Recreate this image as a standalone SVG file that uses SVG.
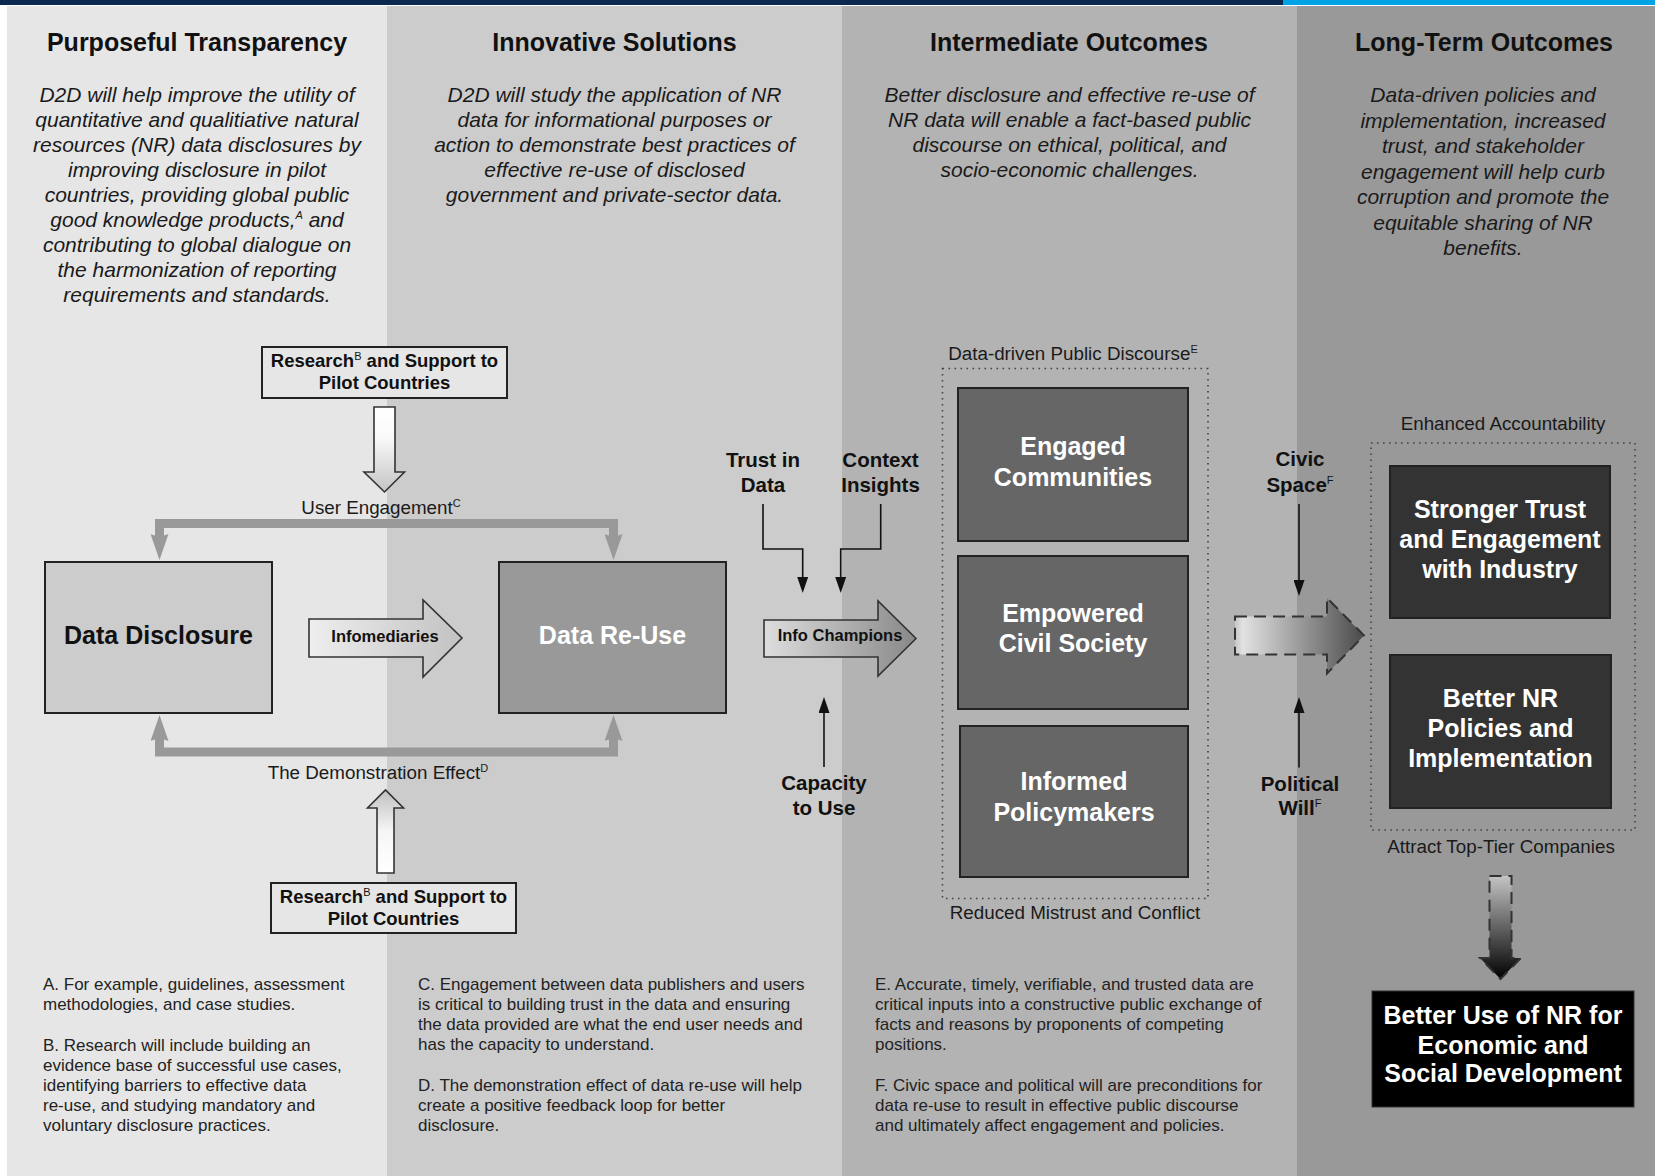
<svg xmlns="http://www.w3.org/2000/svg" width="1655" height="1176" viewBox="0 0 1655 1176">
<defs>
<style>
text{font-family:"Liberation Sans",Arial,sans-serif}
.h{font-weight:bold;font-size:25px;fill:#111;text-anchor:middle}
.d{font-style:italic;font-size:21px;fill:#1a1a1a;text-anchor:middle}
.lb{font-weight:bold;font-size:20.5px;fill:#111;text-anchor:middle}
.lr{font-size:18.8px;fill:#1a1a1a;text-anchor:middle}
.fn{font-size:17px;fill:#222}
.bw{font-weight:bold;font-size:25px;fill:#fff;text-anchor:middle}
.bk{font-weight:bold;font-size:25px;fill:#111;text-anchor:middle}
.rs{font-weight:bold;font-size:18.5px;fill:#111;text-anchor:middle}
.ar{font-weight:bold;font-size:16.5px;fill:#111;text-anchor:middle}
.sup{font-size:11px;font-weight:normal}
.box{stroke:#222;stroke-width:2}
.dot{fill:none;stroke:#444;stroke-width:1.6;stroke-dasharray:1.6 4.4}
.thin{fill:none;stroke:#111;stroke-width:1.6}
.loop{fill:none;stroke:#999;stroke-width:9}
.hollow{stroke:#333;stroke-width:1.6}
.dash{stroke:#333;stroke-width:2;stroke-dasharray:12 7}
</style>
<linearGradient id="gWD" x1="0" y1="0" x2="0" y2="1"><stop offset="0" stop-color="#ffffff"/><stop offset="0.35" stop-color="#fafafa"/><stop offset="1" stop-color="#c4c4c4"/></linearGradient>
<linearGradient id="gWU" x1="0" y1="1" x2="0" y2="0"><stop offset="0" stop-color="#ffffff"/><stop offset="0.5" stop-color="#f6f6f6"/><stop offset="1" stop-color="#c0c0c0"/></linearGradient>
<linearGradient id="gInf" x1="0" y1="0" x2="1" y2="0"><stop offset="0" stop-color="#eeeeee"/><stop offset="1" stop-color="#c2c2c2"/></linearGradient>
<linearGradient id="gCh" x1="0" y1="0" x2="1" y2="0"><stop offset="0" stop-color="#dddddd"/><stop offset="1" stop-color="#888888"/></linearGradient>
<linearGradient id="gCv" x1="0" y1="0" x2="1" y2="0"><stop offset="0" stop-color="#c6c6c6"/><stop offset="0.06" stop-color="#e2e2e2"/><stop offset="1" stop-color="#4a4a4a"/></linearGradient>
<linearGradient id="gDn" x1="0" y1="0" x2="0" y2="1"><stop offset="0" stop-color="#c4c4c4"/><stop offset="1" stop-color="#000000"/></linearGradient>
<marker id="ah" viewBox="0 0 16 11" refX="6" refY="5.5" markerWidth="16" markerHeight="11" markerUnits="userSpaceOnUse" orient="auto"><path d="M0,0 L16,5.5 L0,11 z" fill="#111"/></marker>
<marker id="gh" viewBox="0 0 26 18" refX="11" refY="9" markerWidth="26" markerHeight="18" markerUnits="userSpaceOnUse" orient="auto-start-reverse"><path d="M0,0 L26,9 L0,18 L3,9 z" fill="#999"/></marker>
</defs>

<g id="background">
<rect x="0" y="0" width="1655" height="1176" fill="#ffffff"/>
<rect x="0" y="0" width="1283" height="5" fill="#0b2850"/>
<rect x="1283" y="0" width="372" height="5" fill="#00a3e6"/>
<rect x="7" y="6" width="380" height="1170" fill="#e6e6e6"/>
<rect x="387" y="6" width="455" height="1170" fill="#cccccc"/>
<rect x="842" y="6" width="455" height="1170" fill="#b3b3b3"/>
<rect x="1297" y="6" width="358" height="1170" fill="#999999"/>
</g>

<g id="headers">
<text class="h" x="197" y="51">Purposeful Transparency</text>
<text class="h" x="614.5" y="51">Innovative Solutions</text>
<text class="h" x="1069" y="51">Intermediate Outcomes</text>
<text class="h" x="1484" y="51">Long-Term Outcomes</text>
</g>

<g id="descriptions">
<text class="d" x="197" y="101.5">D2D will help improve the utility of</text>
<text class="d" x="197" y="126.6">quantitative and qualitiative natural</text>
<text class="d" x="197" y="151.7">resources (NR) data disclosures by</text>
<text class="d" x="197" y="176.8">improving disclosure in pilot</text>
<text class="d" x="197" y="201.9">countries, providing global public</text>
<text class="d" x="197" y="227">good knowledge products,<tspan class="sup" dy="-8">A</tspan><tspan dy="8"> and</tspan></text>
<text class="d" x="197" y="252.1">contributing to global dialogue on</text>
<text class="d" x="197" y="277.2">the harmonization of reporting</text>
<text class="d" x="197" y="302.3">requirements and standards.</text>

<text class="d" x="614.5" y="101.5">D2D will study the application of NR</text>
<text class="d" x="614.5" y="126.6">data for informational purposes or</text>
<text class="d" x="614.5" y="151.7">action to demonstrate best practices of</text>
<text class="d" x="614.5" y="176.8">effective re-use of disclosed</text>
<text class="d" x="614.5" y="201.9">government and private-sector data.</text>

<text class="d" x="1069.5" y="101.5">Better disclosure and effective re-use of</text>
<text class="d" x="1069.5" y="126.6">NR data will enable a fact-based public</text>
<text class="d" x="1069.5" y="151.7">discourse on ethical, political, and</text>
<text class="d" x="1069.5" y="176.8">socio-economic challenges.</text>

<text class="d" x="1483" y="102">Data-driven policies and</text>
<text class="d" x="1483" y="127.5">implementation, increased</text>
<text class="d" x="1483" y="153">trust, and stakeholder</text>
<text class="d" x="1483" y="178.6">engagement will help curb</text>
<text class="d" x="1483" y="204.2">corruption and promote the</text>
<text class="d" x="1483" y="229.8">equitable sharing of NR</text>
<text class="d" x="1483" y="255.3">benefits.</text>
</g>

<g id="connectors">
<path class="loop" d="M159.5,545 V523.5 H613.5 V545" marker-start="url(#gh)" marker-end="url(#gh)"/>
<path class="loop" d="M159.5,730 V752 H613.5 V730" marker-start="url(#gh)" marker-end="url(#gh)"/>
<polygon class="hollow" fill="url(#gWD)" points="374,407 395,407 395,472 404.5,472 384.5,492 364,472 374,472"/>
<polygon class="hollow" fill="url(#gWU)" points="377,873 394,873 394,808 403.5,808 385.5,790 367.5,808 377,808"/>
<path class="thin" d="M763,504 V549 H802.7 V583" marker-end="url(#ah)"/>
<path class="thin" d="M880.7,504 V549 H840.7 V583" marker-end="url(#ah)"/>
<path class="thin" d="M824,767 V707" marker-end="url(#ah)"/>
<path class="thin" d="M1299,504 V586" marker-end="url(#ah)"/>
<path class="thin" d="M1299,767.5 V707" marker-end="url(#ah)"/>
<polygon class="dash" fill="url(#gCv)" points="1235,616.5 1327,616.5 1327,598 1364,635.5 1327,673.5 1327,654.5 1235,654.5"/>
<polygon class="dash" fill="url(#gDn)" points="1489.5,876 1511.5,876 1511.5,958 1521,958 1500.5,979 1480,958 1489.5,958"/>
</g>

<g id="research-top">
<rect class="box" x="262" y="347" width="245" height="51" fill="#e6e6e6" stroke-width="1.8"/>
<text class="rs" x="384.5" y="367">Research<tspan class="sup" dy="-7">B</tspan><tspan dy="7"> and Support to</tspan></text>
<text class="rs" x="384.5" y="389">Pilot Countries</text>
</g>

<g id="user-engagement">
<text class="lr" x="381" y="514">User Engagement<tspan class="sup" dy="-7">C</tspan></text>
</g>

<g id="data-disclosure">
<rect class="box" x="45" y="562" width="227" height="151" fill="#cccccc"/>
<text class="bk" x="158.5" y="644">Data Disclosure</text>
</g>

<g id="infomediaries">
<polygon class="hollow" fill="url(#gInf)" points="309,619 423,619 423,600 462,638 423,677 423,657 309,657"/>
<text class="ar" x="385" y="641.5">Infomediaries</text>
</g>

<g id="data-reuse">
<rect class="box" x="499" y="562" width="227" height="151" fill="#999999"/>
<text class="bw" x="612.5" y="644">Data Re-Use</text>
</g>

<g id="demonstration-effect">
<text class="lr" x="378" y="779">The Demonstration Effect<tspan class="sup" dy="-7">D</tspan></text>
</g>

<g id="research-bottom">
<rect class="box" x="271" y="883" width="245" height="50" fill="#e6e6e6" stroke-width="1.8"/>
<text class="rs" x="393.5" y="903">Research<tspan class="sup" dy="-7">B</tspan><tspan dy="7"> and Support to</tspan></text>
<text class="rs" x="393.5" y="925">Pilot Countries</text>
</g>

<g id="trust-in-data">
<text class="lb" x="763" y="467">Trust in</text>
<text class="lb" x="763" y="492">Data</text>
</g>

<g id="context-insights">
<text class="lb" x="880.5" y="467">Context</text>
<text class="lb" x="880.5" y="492">Insights</text>
</g>

<g id="info-champions">
<polygon class="hollow" fill="url(#gCh)" points="764,620 878,620 878,601 916,638.5 878,676 878,657 764,657"/>
<text class="ar" x="840" y="641">Info Champions</text>
</g>

<g id="capacity-to-use">
<text class="lb" x="824" y="790">Capacity</text>
<text class="lb" x="824" y="815">to Use</text>
</g>

<g id="public-discourse">
<rect class="dot" x="942.5" y="368.5" width="265.5" height="530"/>
<text class="lr" x="1073" y="360">Data-driven Public Discourse<tspan class="sup" dy="-7">E</tspan></text>
<text class="lr" x="1075" y="919">Reduced Mistrust and Conflict</text>
</g>

<g id="engaged-communities">
<rect class="box" x="958" y="388" width="230" height="153" fill="#666666"/>
<text class="bw" x="1073" y="455">Engaged</text>
<text class="bw" x="1073" y="485.5">Communities</text>
</g>

<g id="empowered-civil-society">
<rect class="box" x="958" y="556" width="230" height="153" fill="#666666"/>
<text class="bw" x="1073" y="622">Empowered</text>
<text class="bw" x="1073" y="652">Civil Society</text>
</g>

<g id="informed-policymakers">
<rect class="box" x="960" y="726" width="228" height="151" fill="#666666"/>
<text class="bw" x="1074" y="790">Informed</text>
<text class="bw" x="1074" y="820.5">Policymakers</text>
</g>

<g id="civic-space">
<text class="lb" x="1300" y="466">Civic</text>
<text class="lb" x="1300" y="491.5">Space<tspan class="sup" dy="-8">F</tspan></text>
</g>

<g id="political-will">
<text class="lb" x="1300" y="790.5">Political</text>
<text class="lb" x="1300" y="815">Will<tspan class="sup" dy="-8">F</tspan></text>
</g>

<g id="enhanced-accountability">
<rect class="dot" x="1371" y="443" width="264" height="387"/>
<text class="lr" x="1503" y="430">Enhanced Accountability</text>
<text class="lr" x="1501" y="853">Attract Top-Tier Companies</text>
</g>

<g id="stronger-trust">
<rect class="box" x="1390" y="466" width="220" height="152" fill="#333333" stroke="#1a1a1a"/>
<text class="bw" x="1500" y="517.5">Stronger Trust</text>
<text class="bw" x="1500" y="548">and Engagement</text>
<text class="bw" x="1500" y="578">with Industry</text>
</g>

<g id="better-nr-policies">
<rect class="box" x="1390" y="655" width="221" height="153" fill="#333333" stroke="#1a1a1a"/>
<text class="bw" x="1500.5" y="707">Better NR</text>
<text class="bw" x="1500.5" y="737">Policies and</text>
<text class="bw" x="1500.5" y="767">Implementation</text>
</g>

<g id="better-use-of-nr">
<rect x="1372" y="991" width="262" height="116" fill="#000000" stroke="#333" stroke-width="1"/>
<text class="bw" x="1503" y="1023.5">Better Use of NR for</text>
<text class="bw" x="1503" y="1053.5">Economic and</text>
<text class="bw" x="1503" y="1082">Social Development</text>
</g>

<g id="footnotes">
<text class="fn" x="43" y="990">A. For example, guidelines, assessment</text>
<text class="fn" x="43" y="1010">methodologies, and case studies.</text>
<text class="fn" x="43" y="1051">B. Research will include building an</text>
<text class="fn" x="43" y="1071">evidence base of successful use cases,</text>
<text class="fn" x="43" y="1091">identifying barriers to effective data</text>
<text class="fn" x="43" y="1111">re-use, and studying mandatory and</text>
<text class="fn" x="43" y="1131">voluntary disclosure practices.</text>

<text class="fn" x="418" y="990">C. Engagement between data publishers and users</text>
<text class="fn" x="418" y="1010">is critical to building trust in the data and ensuring</text>
<text class="fn" x="418" y="1030">the data provided are what the end user needs and</text>
<text class="fn" x="418" y="1050">has the capacity to understand.</text>
<text class="fn" x="418" y="1091">D. The demonstration effect of data re-use will help</text>
<text class="fn" x="418" y="1111">create a positive feedback loop for better</text>
<text class="fn" x="418" y="1131">disclosure.</text>

<text class="fn" x="875" y="990">E. Accurate, timely, verifiable, and trusted data are</text>
<text class="fn" x="875" y="1010">critical inputs into a constructive public exchange of</text>
<text class="fn" x="875" y="1030">facts and reasons by proponents of competing</text>
<text class="fn" x="875" y="1050">positions.</text>
<text class="fn" x="875" y="1091">F. Civic space and political will are preconditions for</text>
<text class="fn" x="875" y="1111">data re-use to result in effective public discourse</text>
<text class="fn" x="875" y="1131">and ultimately affect engagement and policies.</text>
</g>
</svg>
